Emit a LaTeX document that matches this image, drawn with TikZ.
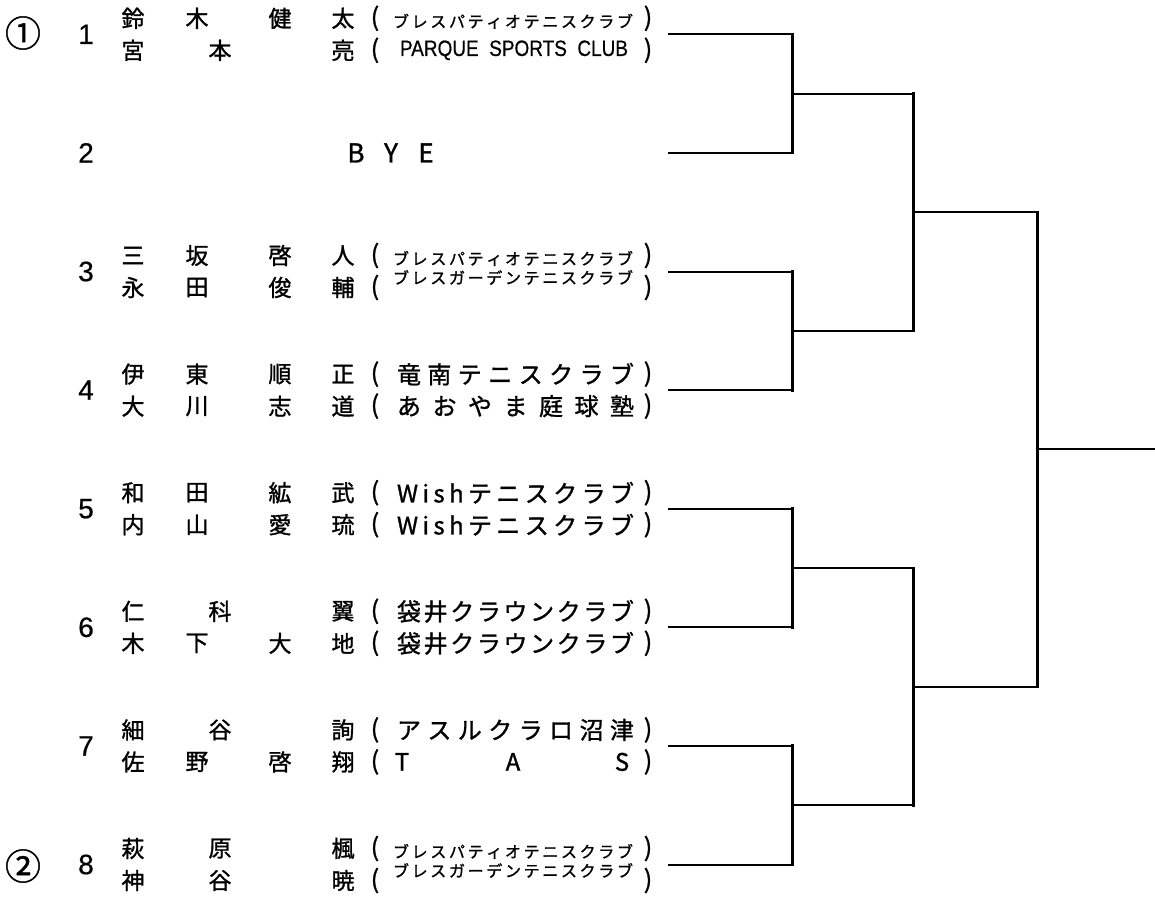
\documentclass[tikz,border=0pt]{standalone}
\usepackage{fontspec}
\setmainfont{Noto Sans CJK JP}
\newfontfamily\jpf[FakeBold=1.2]{Noto Sans CJK JP}
\newfontfamily\libf[FakeBold=0.6]{Liberation Sans}
\def\spreadend{}
\def\spreadB#1#2{#1\ifx#2\spreadend\else\hfill\expandafter\spreadB\expandafter#2\fi}
\newcommand\spreadbox[2]{\makebox[#1][s]{\spreadB#2\spreadend}}
\tikzset{
  pname/.style={font=\jpf\fontsize{23}{23}\selectfont, inner sep=0, anchor=center},
  brch/.style={font=\jpf\fontsize{25}{25}\selectfont, inner sep=0},
  bigclub/.style={font=\jpf\fontsize{24}{24}\selectfont, inner sep=0},
  smallclub/.style={font=\jpf\fontsize{16}{16}\selectfont, inner sep=0},
  seednum/.style={font=\libf\fontsize{28}{28}\selectfont, inner sep=0},
  seedmark/.style={font=\jpf\fontsize{36}{36}\selectfont, inner sep=0},
  byech/.style={font=\jpf\fontsize{26}{26}\selectfont, inner sep=0},
  hseg/.style={line width=2pt},
  vseg/.style={line width=3pt, line cap=rect}
}
\newcommand\fourname[6]{%
  \node[pname] (#1a) at (133,#2) {#3};
  \node[pname] (#1b) at (197,#2) {#4};
  \node[pname] (#1c) at (280,#2) {#5};
  \node[pname] (#1d) at (343,#2) {#6};}
\newcommand\threename[5]{%
  \node[pname] (#1a) at (133,#2) {#3};
  \node[pname] (#1b) at (220,#2) {#4};
  \node[pname] (#1d) at (343,#2) {#5};}
\newcommand\parens[2]{%
  \node[brch] (#1l) at (375,#2) {(};
  \node[brch] (#1r) at (648,#2) {)};}
\newcommand\bigclubtext[3]{\node[bigclub] (#1c) at (515.5,#2) {\spreadbox{237pt}{#3}};}
\newcommand\smallclubtext[3]{\node[smallclub] (#1c) at (513,#2) {\spreadbox{240pt}{#3}};}
\begin{document}
\begin{tikzpicture}[x=1pt,y=-1pt]
\useasboundingbox (0,0) rectangle (1155,899);
% seeds and numbers
\node[seedmark] (seedA) at (23,33) {①};
\node[seedmark] (seedB) at (23,866) {②};
\node[seednum] (n1) at (86,34.3) {1};
\node[seednum] (n2) at (86,152.9) {2};
\node[seednum] (n3) at (86,271.5) {3};
\node[seednum] (n4) at (86,390.1) {4};
\node[seednum] (n5) at (86,508.7) {5};
\node[seednum] (n6) at (86,627.3) {6};
\node[seednum] (n7) at (86,745.9) {7};
\node[seednum] (n8) at (86,864.5) {8};
% row 1
\fourname{r1u}{18.3}{鈴}{木}{健}{太}
\parens{r1u}{18.3}
\smallclubtext{r1u}{21.3}{ブレスパティオテニスクラブ}
\threename{r1l}{50.3}{宮}{本}{亮}
\parens{r1l}{50.3}
\node[inner sep=0] (r1lc) at (514,50.3) {\resizebox{228pt}{15.5pt}{\libf PARQUE\ \ SPORTS\ \ CLUB}};
% row 2
\node[byech] (byeB) at (356,152.9) {B};
\node[byech] (byeY) at (391,152.9) {Y};
\node[byech] (byeE) at (426,152.9) {E};
% row 3
\fourname{r3u}{255.5}{三}{坂}{啓}{人}
\parens{r3u}{255.5}
\smallclubtext{r3u}{258.5}{ブレスパティオテニスクラブ}
\fourname{r3l}{287.5}{永}{田}{俊}{輔}
\parens{r3l}{287.5}
\smallclubtext{r3l}{277.5}{ブレスガーデンテニスクラブ}
% row 4
\fourname{r4u}{374.1}{伊}{東}{順}{正}
\parens{r4u}{374.1}
\bigclubtext{r4u}{374.1}{竜南テニスクラブ}
\fourname{r4l}{406.1}{大}{川}{志}{道}
\parens{r4l}{406.1}
\bigclubtext{r4l}{406.1}{あおやま庭球塾}
% row 5
\fourname{r5u}{492.7}{和}{田}{絋}{武}
\parens{r5u}{492.7}
\bigclubtext{r5u}{492.7}{Wishテニスクラブ}
\fourname{r5l}{524.7}{内}{山}{愛}{琉}
\parens{r5l}{524.7}
\bigclubtext{r5l}{524.7}{Wishテニスクラブ}
% row 6
\threename{r6u}{611.3}{仁}{科}{翼}
\parens{r6u}{611.3}
\bigclubtext{r6u}{611.3}{袋井クラウンクラブ}
\fourname{r6l}{643.3}{木}{下}{大}{地}
\parens{r6l}{643.3}
\bigclubtext{r6l}{643.3}{袋井クラウンクラブ}
% row 7
\threename{r7u}{729.9}{細}{谷}{詢}
\parens{r7u}{729.9}
\bigclubtext{r7u}{729.9}{アスルクラロ沼津}
\fourname{r7l}{761.9}{佐}{野}{啓}{翔}
\parens{r7l}{761.9}
\node[bigclub] (r7lT) at (402,761.9) {T};
\node[bigclub] (r7lA) at (513,761.9) {A};
\node[bigclub] (r7lS) at (622,761.9) {S};
% row 8
\threename{r8u}{848.5}{萩}{原}{楓}
\parens{r8u}{848.5}
\smallclubtext{r8u}{851.5}{ブレスパティオテニスクラブ}
\threename{r8l}{880.5}{神}{谷}{暁}
\parens{r8l}{880.5}
\smallclubtext{r8l}{870.5}{ブレスガーデンテニスクラブ}
% bracket coordinates
\foreach \i/\y in {1/34.3,2/152.9,3/271.5,4/390.1,5/508.7,6/627.3,7/745.9,8/864.5}{
  \coordinate (s\i) at (668,\y);
  \coordinate (a\i) at (792,\y);
}
\foreach \j/\y in {1/93.6,2/330.8,3/568,4/805.2}{
  \coordinate (q\j) at (792,\y);
  \coordinate (b\j) at (913,\y);
}
\foreach \k/\y in {1/212.2,2/686.6}{
  \coordinate (p\k) at (913,\y);
  \coordinate (c\k) at (1037,\y);
}
\coordinate (fin) at (1037,449.4);
\coordinate (out) at (1155,449.4);
% round 1
\foreach \i in {1,...,8}{ \draw[hseg] (s\i) -- (a\i); }
\draw[vseg] (a1) -- (a2); \draw[vseg] (a3) -- (a4);
\draw[vseg] (a5) -- (a6); \draw[vseg] (a7) -- (a8);
\foreach \j in {1,...,4}{ \draw[hseg] (q\j) -- (b\j); }
% round 2
\draw[vseg] (b1) -- (b2); \draw[vseg] (b3) -- (b4);
\draw[hseg] (p1) -- (c1); \draw[hseg] (p2) -- (c2);
% round 3
\draw[vseg] (c1) -- (c2);
\draw[hseg] (fin) -- (out);
\end{tikzpicture}
\end{document}
